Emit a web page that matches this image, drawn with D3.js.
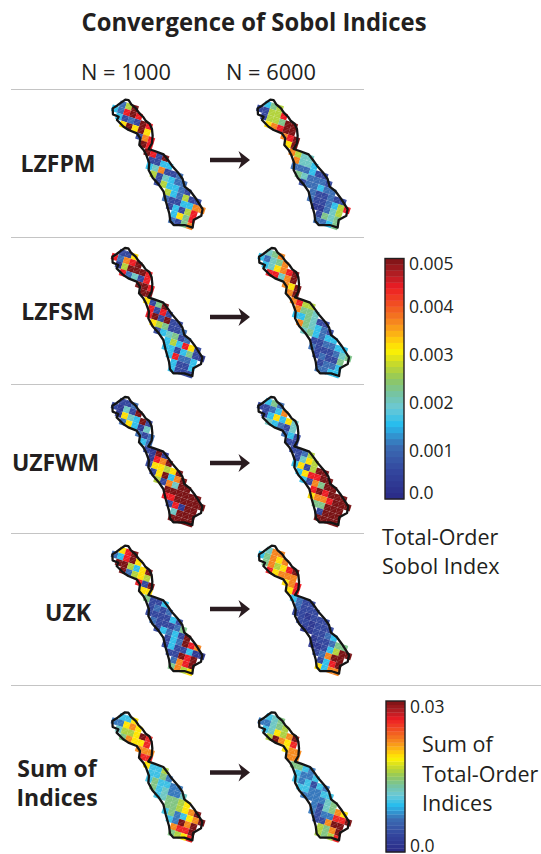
<!DOCTYPE html>
<html>
<head>
<meta charset="utf-8">
<style>
    body { margin: 0; background: #fff; }
    text { font-family: "Open Sans", sans-serif; fill: #231f20; }
    .title, .rowlabel { font-weight: 700; }
    .rule { stroke: #c4c4c4; stroke-width: 1; }
    .basin { fill: none; stroke: #141414; stroke-width: 2.3; stroke-linejoin: round; }
    .mesh { stroke: #fff; stroke-opacity: 0.3; stroke-width: 0.4; }
    .arrow { stroke: #2a1c20; stroke-width: 4.5; }
    .arrowhead { fill: #2a1c20; }
    .barframe { fill: none; stroke: #231f20; stroke-width: 1.4; }
</style>
</head>
<body>
<script src="https://d3js.org/d3.v7.min.js"></script>
<script>

const rowLabels = [["LZFPM"], ["LZFSM"], ["UZFWM"], ["UZK"], ["Sum of", "Indices"]];
const columnLabels = ["N = 1000", "N = 6000"];

// lattice rows of the model grid: row number and first column of each row
const gridRows =  [-7, -6, -5, -4, -3, -2, -1, 0, 1, 2, 3, 4, 5, 6, 7, 8];
const gridFirst = [-6, -7, -6, -5, -2, -1,  0, 1, 1, 2, 3, 5, 5, 6, 7, 7];

// basin boundary, in map units
const basinOutline = [[90,24],[100,25],[108,38],[122,50],[130,62],[143,75],[152,88],[163,96],[170,112],[172,132],[170,155],[160,172],[178,178],[205,188],[218,205],[230,222],[250,245],[262,262],[268,285],[285,298],[300,318],[322,352],[318,372],[295,385],[292,408],[268,400],[235,400],[225,388],[222,365],[212,330],[205,300],[190,278],[172,258],[160,235],[162,215],[153,190],[145,175],[132,160],[135,140],[125,125],[100,115],[85,105],[65,85],[70,75],[53,68],[52,50],[65,42],[78,32]];

// total-order index, in units of 0.0001, one list per lattice row
const lzfpm1000 = [[11,27,50],[16,11,44,50,44],[16,6,11,6,50,44],[32,50,32,50,32],[6,37,44],[50,44],[50,44,6,50],[6,6,16,16],[16,20,37,6,6,11],[27,6,20,16,11,11],[6,27,16,16,11,6],[27,16,11,27,6,6],[11,6,6,16,16,37,37],[6,16,6,27,44],[16,32,23,44],[11,6,23,37]];
const lzfpm6000 = [[16,23,27],[6,6,27,27,44],[6,27,27,23,50,50],[32,37,44,50,50],[37,44,50],[32,50],[37,27,20,20],[37,20,20,16],[11,11,11,16,6,6],[23,20,11,11,11,6],[6,11,11,16,11,11],[11,6,6,11,6,6],[11,6,6,11,16,27,44],[3,3,11,20,27],[6,23,20,23],[11,11,16,23]];
const lzfsm1000 = [[6,6,32],[44,11,37,44,50],[3,27,50,50,50,44],[44,11,20,6,44],[50,50,44],[50,50],[32,6,23,50],[44,6,44,6],[44,50,6,50,6,6],[32,27,23,6,6,11],[6,16,20,23,6,11],[16,27,16,44,32,6],[16,16,6,16,23,6,3],[16,44,11,11,16],[16,6,6,16],[16,6,6,6]];
const lzfsm6000 = [[20,23,37],[16,11,20,23,37],[16,20,32,37,44,50],[44,44,20,37,50],[37,32,50],[37,50],[37,44,27,27],[37,23,23,20],[16,16,23,20,6,6],[37,23,20,16,11,6],[20,23,16,11,16,16],[6,6,11,11,16,16],[11,6,6,6,11,20,23],[6,11,6,6,23],[6,11,11,16],[11,11,16,16]];
const uzfwm1000 = [[6,6,11],[6,3,20,6,50],[3,32,20,16,50,6],[11,32,16,3,20],[11,6,11],[16,11],[6,3,50,3],[3,44,37,50],[6,32,32,27,32,50],[6,32,50,16,37,50],[27,6,37,20,50,50],[50,50,50,50,50,50],[44,44,50,50,50,50,50],[6,44,3,50,50],[20,50,50,50],[50,50,50,50]];
const uzfwm6000 = [[16,23,11],[6,6,11,16,37],[6,16,32,16,32,20],[20,16,11,6,20],[11,16,6],[6,6],[6,6,11,27],[6,20,32,27],[16,32,6,27,50,50],[16,32,44,44,50,50],[16,6,37,23,50,50],[44,50,44,50,50,50],[32,37,37,44,50,50,50],[23,23,50,50,50],[6,50,50,50],[50,50,50,50]];
const uzk1000 = [[32,44,50],[11,16,44,50,32],[50,50,27,16,32,50],[50,11,27,32,27],[44,6,50],[32,32],[23,6,6,16],[6,11,6,11],[6,6,6,6,16,6],[11,6,6,6,11,23],[6,16,11,16,6,50],[6,16,11,50,44,37],[6,16,6,6,16,3,3],[6,6,50,44,50],[11,37,44,50],[23,37,27,32]];
const uzk6000 = [[20,37,37],[16,23,37,32,37],[23,37,27,32,44,50],[44,32,37,37,37],[32,37,44],[32,44],[16,11,6,6],[11,6,6,6],[6,6,3,6,6,6],[6,6,3,6,6,6],[3,3,6,6,11,16],[3,6,6,11,23,23],[3,3,6,16,27,50,50],[6,11,37,50,50],[6,16,44,50],[32,16,37,37]];

// sum of indices, in units of 0.001
const sum1000 = [[10,10,19],[7,7,19,22,19],[12,16,16,19,30,26],[14,22,19,19,26],[22,22,22],[26,26],[19,10,10,16],[10,10,14,7],[10,14,10,10,7,7],[14,10,12,7,7,12],[10,12,14,14,16,19],[14,14,16,19,22,30],[10,14,7,10,19,22,30],[10,7,30,22,30],[22,26,26,30],[14,16,19,26]];
const sum6000 = [[10,12,14],[7,7,12,14,16],[10,12,19,16,22,30],[16,30,22,19,26],[19,22,22],[22,22],[14,14,10,7],[10,7,7,10],[10,7,10,4,10,7],[10,10,7,7,10,10],[7,7,7,7,12,14],[7,4,12,14,22,19],[7,4,7,7,26,26,30],[4,4,22,30,30],[16,14,22,30],[16,14,16,26]];

// one row of the figure: values for each N and the unit of those values
const sobolUnit = 0.0001, sumUnit = 0.001;
const figureRows = [
    [lzfpm1000, lzfpm6000, sobolUnit],
    [lzfsm1000, lzfsm6000, sobolUnit],
    [uzfwm1000, uzfwm6000, sobolUnit],
    [uzk1000, uzk6000, sobolUnit],
    [sum1000, sum6000, sumUnit]
];

const sobolTicks = [0, 0.001, 0.002, 0.003, 0.004, 0.005];
const sobolTickLabels = ["0.0", "0.001", "0.002", "0.003", "0.004", "0.005"];
const sumTicks = [0, 0.03];
const sumTickLabels = ["0.0", "0.03"];

const colorStops = ["#2a2a86", "#34479e", "#3b6db4", "#27bdee", "#6cc9d4", "#76c4a0", "#90c75e", "#c5d92d", "#fff200", "#fdb913", "#f47b20", "#ed1c24", "#b61e24", "#7a1315"];
const colorPositions = [0, 0.12, 0.22, 0.31, 0.38, 0.44, 0.50, 0.56, 0.62, 0.68, 0.75, 0.88, 0.93, 1];
const colorRamp = d3.scaleLinear().domain(colorPositions).range(colorStops).clamp(true);

const width = 541, height = 854;
const svg = d3.select("body").append("svg").attr("width", width).attr("height", height);

// where things sit on the page
const mapTop = [91.7, 240, 389, 537.7, 704.3];
const mapLeft = [95.3, 95, 95, 95, 95];
const mapStep = [145, 146.7, 146, 146.7, 146.7];
const ruleY = [89.5, 237.5, 384.5, 533.5];
const arrowY = [160, 317, 463, 609, 772.5];
const labelY = [[172], [320], [471], [621], [777, 806]];
const labelX = [58, 58, 55.5, 68, 57];

svg.append("text").attr("class", "title")
    .attr("x", 254).attr("y", 31)
    .attr("text-anchor", "middle")
    .attr("font-size", 25)
    .attr("textLength", 345).attr("lengthAdjust", "spacingAndGlyphs")
    .text("Convergence of Sobol Indices");

columnLabels.forEach((label, i) => {
    svg.append("text")
        .attr("x", 126 + i * 145).attr("y", 80)
        .attr("text-anchor", "middle")
        .attr("font-size", 22)
        .attr("textLength", 90).attr("lengthAdjust", "spacingAndGlyphs")
        .text(label);
});

svg.selectAll(".rule").data(ruleY).enter().append("line")
    .attr("class", "rule")
    .attr("x1", 11).attr("x2", 364)
    .attr("y1", d => d).attr("y2", d => d);
svg.append("line").attr("class", "rule")
    .attr("x1", 11).attr("x2", 541)
    .attr("y1", 685.5).attr("y2", 685.5);

rowLabels.forEach((lines, r) => {
    lines.forEach((line, k) => {
        svg.append("text").attr("class", "rowlabel")
            .attr("x", labelX[r]).attr("y", labelY[r][k])
            .attr("text-anchor", "middle")
            .attr("font-size", 23)
            .text(line);
    });
});

// map units to page pixels
const mapX = d3.scaleLinear().domain([0, 300]).range([0, 100]);
const mapY = d3.scaleLinear().domain([0, 300]).range([0, 100]);
const cellEdge = mapX(19);
const cellPos = d3.scaleLinear().domain([0, 1]).range([0, cellEdge]);
const basinLine = d3.line().x(d => mapX(d[0])).y(d => mapY(d[1])).curve(d3.curveLinearClosed);

function drawMap(values, unit, maxValue, left, top) {
    const g = svg.append("g").attr("transform", `translate(${left},${top})`);
    const cellColor = d3.scaleLinear().domain([0, maxValue]).range([0, 1]);

    const cells = [];
    values.forEach((row, r) => {
        row.forEach((v, k) => {
            cells.push({ i: gridFirst[r] + k, j: gridRows[r], value: v * unit });
        });
    });

    const lattice = g.append("g")
        .attr("transform", `translate(${mapX(150)},${mapY(200)}) rotate(18)`);

    lattice.selectAll("rect").data(cells).enter().append("rect")
        .attr("x", d => cellPos(d.i) - cellEdge / 2)
        .attr("y", d => cellPos(d.j) - cellEdge / 2)
        .attr("width", cellEdge + 0.1)
        .attr("height", cellEdge + 0.1)
        .attr("fill", d => colorRamp(cellColor(d.value)));

    lattice.selectAll("line").data(cells).enter().append("line")
        .attr("class", "mesh")
        .attr("x1", d => cellPos(d.i) - cellEdge / 2)
        .attr("y1", d => cellPos(d.j) + cellEdge / 2)
        .attr("x2", d => cellPos(d.i) + cellEdge / 2)
        .attr("y2", d => cellPos(d.j) - cellEdge / 2);

    g.append("path").attr("class", "basin").attr("d", basinLine(basinOutline));
}

figureRows.forEach((row, r) => {
    const maxValue = row[2] === sobolUnit ? 0.005 : 0.03;
    drawMap(row[0], row[2], maxValue, mapLeft[r], mapTop[r]);
    drawMap(row[1], row[2], maxValue, mapLeft[r] + mapStep[r], mapTop[r]);

    // arrow between the two runs
    const y = arrowY[r];
    svg.append("line").attr("class", "arrow")
        .attr("x1", 210).attr("x2", 244).attr("y1", y).attr("y2", y);
    svg.append("path").attr("class", "arrowhead")
        .attr("d", `M250,${y}L238.5,${y - 9}L242,${y}L238.5,${y + 9}Z`);
});

function drawColorBar(x, y0, y1, ticks, tickLabels, tickScale) {
    const barScale = d3.scaleLinear().domain([0, 1]).range([y1, y0]);
    const nBands = 40;
    svg.append("g").selectAll("rect").data(d3.range(nBands)).enter().append("rect")
        .attr("x", x)
        .attr("y", d => barScale((d + 1) / nBands))
        .attr("width", 19)
        .attr("height", (y1 - y0) / nBands + 0.3)
        .attr("fill", d => colorRamp((d + 0.5) / nBands));
    svg.append("rect").attr("class", "barframe")
        .attr("x", x).attr("y", y0).attr("width", 19).attr("height", y1 - y0);
    svg.append("g").selectAll("text").data(ticks).enter().append("text")
        .attr("x", x + 24)
        .attr("y", d => tickScale(d))
        .attr("dy", "0.36em")
        .attr("font-size", 17.5)
        .text((d, i) => tickLabels[i]);
}

// tick labels in the original are hand placed, so the scale has a few knots
const sobolScale = d3.scaleLinear().domain([0, 0.001, 0.004, 0.005]).range([493, 451, 307, 264]);
const sumScale = d3.scaleLinear().domain([0, 0.03]).range([845.5, 707]);
drawColorBar(385, 258.5, 499, sobolTicks, sobolTickLabels, sobolScale);
drawColorBar(386, 701, 852, sumTicks, sumTickLabels, sumScale);

[["Total-Order", 382, 545], ["Sobol Index", 382, 574], ["Sum of", 422, 752], ["Total-Order", 422, 782], ["Indices", 422, 811]].forEach(t => {
    svg.append("text").attr("x", t[1]).attr("y", t[2]).attr("font-size", 21.5).text(t[0]);
});

</script>
</body>
</html>
